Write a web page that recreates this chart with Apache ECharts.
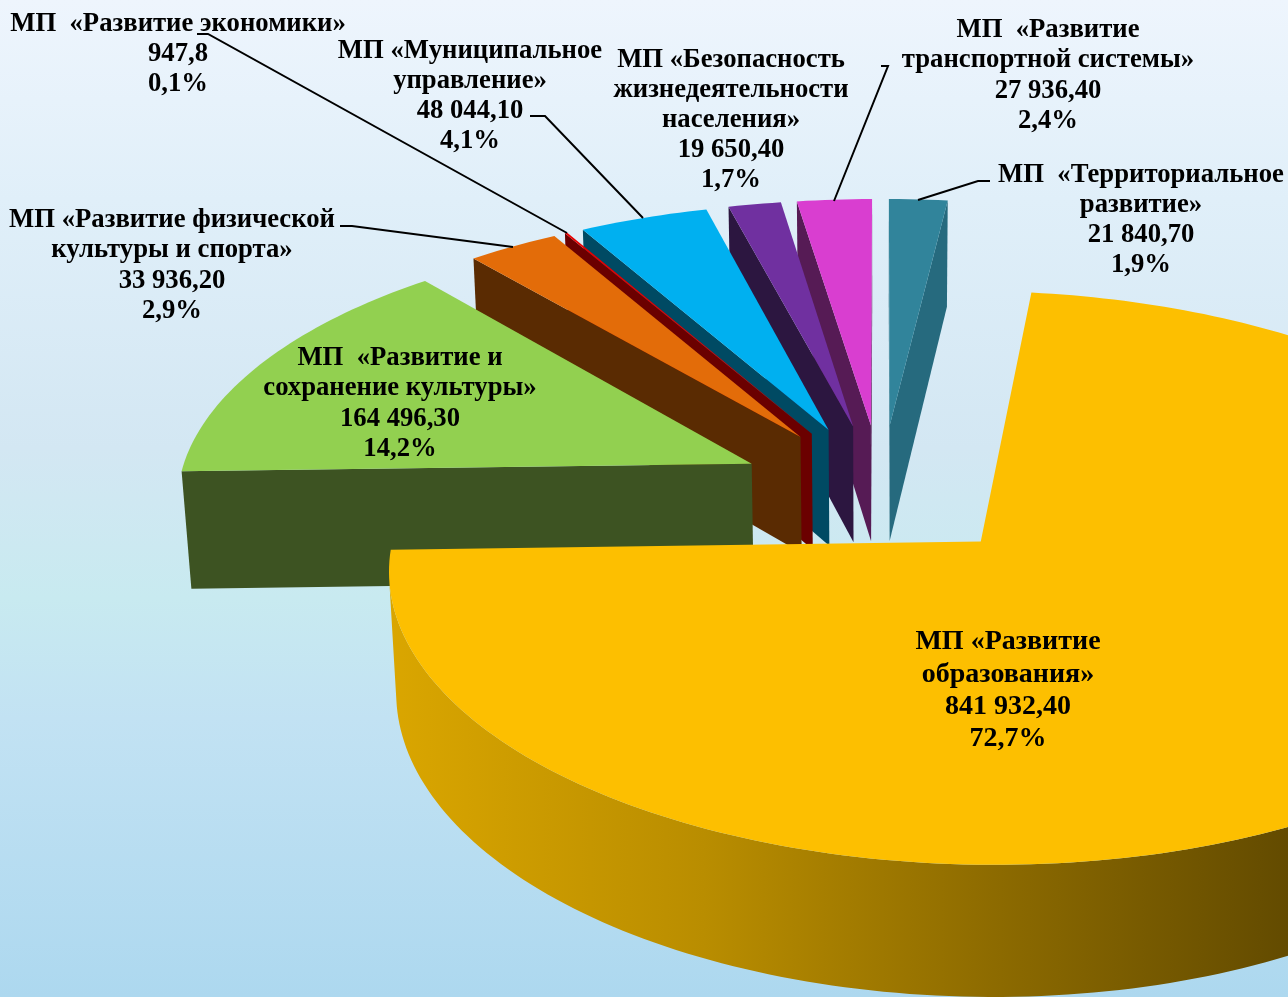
<!DOCTYPE html>
<html><head><meta charset="utf-8">
<style>html,body{margin:0;padding:0;background:#fff}#c{width:1288px;height:997px}</style>
<script src="https://cdn.jsdelivr.net/npm/echarts@6/dist/echarts.min.js"></script>
</head><body><div id="c"></div>
<script>
// --- data, clockwise from 12 o'clock ---
const names = [
  'МП  «Территориальное\nразвитие»',
  'МП «Развитие\nобразования»',
  'МП  «Развитие и\nсохранение культуры»',
  'МП «Развитие физической\nкультуры и спорта»',
  'МП  «Развитие экономики»',
  'МП «Муниципальное\nуправление»',
  'МП «Безопасность\nжизнедеятельности\nнаселения»',
  'МП  «Развитие\nтранспортной системы»'
];
const values = [21840.7, 841932.4, 164496.3, 33936.2, 947.8, 48044.1, 19650.4, 27936.4];
const valueLabels = ['21 840,70', '841 932,40', '164 496,30', '33 936,20', '947,8', '48 044,10', '19 650,40', '27 936,40'];
const percentLabels = ['1,9%', '72,7%', '14,2%', '2,9%', '0,1%', '4,1%', '1,7%', '2,4%'];

// --- styling ---
const topColors = ['#31849B', '#FDBF00', '#92D050', '#E36C09', '#E80000', '#00B0F0', '#7030A0', '#D93ED0'];
const wallColors = ['#266A7E', '#D9A500', '#3D5322', '#5A2B02', '#6B0000', '#004A63', '#2C1640', '#561B55'];
const drawOrder = [0, 7, 6, 5, 4, 3, 2, 1];
const labelPos = [[1141, 220], [1008, 690.5], [400, 403.5], [172, 265.5], [178, 54], [470, 96], [731, 120.2], [1048, 75.5]];
const labelLine = [30, 32.3, 30.3, 30.3, 30, 30, 30.2, 30.3];
const labelSize = [26.7, 28, 26.7, 26.7, 26.7, 26.7, 26.7, 26.7];
const leaders = [
  [[990, 181], [978, 181], [918, 200]],
  [[197, 34], [208, 34], [567, 233]],
  [[530, 116], [545, 116], [643, 218]],
  [[340, 226], [352, 226], [513, 247]],
  [[881, 66], [888, 66], [834, 201]]
];

// --- projection of the tilted pie (perspective) ---
const CX = 881.5, CY = 490.6, S = 575, SK = 269.5, P = 0.124, Q = 0.0143, DEPTH = 120, EXPLODE = 0.25;
function project(X, Y, low) {
  const w = 1 + P * Y + (low ? Q : 0);
  return [CX + S * X / w, CY + (-SK * Y + (low ? DEPTH : 0)) / w];
}
function area(q) {
  let s = 0;
  for (let i = 0; i < q.length; i++) {
    const a = q[i], b = q[(i + 1) % q.length];
    s += a[0] * b[1] - b[0] * a[1];
  }
  return s;
}
const total = values.reduce((a, b) => a + b, 0);
let acc = 0;
const slices = values.map((v, i) => {
  const a0 = acc / total * Math.PI * 2; acc += v;
  return { i, a0, a1: acc / total * Math.PI * 2 };
});

function renderSlice(params, api) {
  const s = slices[api.value(0)];
  const mid = (s.a0 + s.a1) / 2;
  const ax = EXPLODE * Math.sin(mid), ay = EXPLODE * Math.cos(mid);
  const n = Math.max(2, Math.ceil((s.a1 - s.a0) / 0.02));
  const rim = [];
  for (let k = 0; k <= n; k++) {
    const t = s.a0 + (s.a1 - s.a0) * k / n;
    rim.push([ax + Math.sin(t), ay + Math.cos(t)]);
  }
  const wallFill = s.i === 1
    ? new echarts.graphic.LinearGradient(390, 0, 1288, 0, [
        { offset: 0, color: '#DAA600' }, { offset: 0.35, color: '#B98D00' },
        { offset: 0.68, color: '#8C6A00' }, { offset: 1, color: '#634B00' }], true)
    : wallColors[s.i];
  const kids = [];
  const pushQuad = pts => kids.push({ type: 'polygon', shape: { points: pts }, style: { fill: wallFill } });
  const quad = (u, v) => [project(u[0], u[1]), project(v[0], v[1]), project(v[0], v[1], true), project(u[0], u[1], true)];
  const apex = [ax, ay];
  // radial faces
  [[apex, rim[0]], [rim[n], apex]].forEach(e => {
    const q = quad(e[0], e[1]);
    if (area(q) < 0) pushQuad(q);
  });
  // outer curved wall: only the segments that face the viewer
  let run = [];
  const flush = () => {
    if (run.length > 1) {
      const up = run.map(p => project(p[0], p[1]));
      const lo = run.map(p => project(p[0], p[1], true)).reverse();
      pushQuad(up.concat(lo));
    }
    run = [];
  };
  for (let k = 0; k < n; k++) {
    if (area(quad(rim[k], rim[k + 1])) < 0) {
      if (!run.length) run.push(rim[k]);
      run.push(rim[k + 1]);
    } else flush();
  }
  flush();
  // top face
  const top = [project(ax, ay)].concat(rim.map(p => project(p[0], p[1])));
  kids.push({ type: 'polygon', shape: { points: top }, style: { fill: topColors[s.i] } });
  return { type: 'group', children: kids };
}

function renderLabel(params, api) {
  const i = api.value(0);
  return {
    type: 'text',
    x: labelPos[i][0], y: labelPos[i][1],
    style: {
      text: names[i] + '\n' + valueLabels[i] + '\n' + percentLabels[i],
      fill: '#000',
      font: 'bold ' + labelSize[i] + 'px "Liberation Serif"',
      lineHeight: labelLine[i],
      align: 'center', verticalAlign: 'middle'
    }
  };
}
function renderLeader(params, api) {
  return {
    type: 'polyline',
    shape: { points: leaders[api.value(0)] },
    style: { fill: 'none', stroke: '#000', lineWidth: 2 }
  };
}

const chart = echarts.init(document.getElementById('c'), null, { renderer: 'canvas', width: 1288, height: 997 });
chart.setOption({
  animation: false,
  backgroundColor: {
    type: 'linear', x: 0, y: 0, x2: 0, y2: 1,
    colorStops: [
      { offset: 0, color: '#EEF5FD' }, { offset: 0.2, color: '#E0EFF9' },
      { offset: 0.45, color: '#D3E7F3' }, { offset: 0.6, color: '#C8EAF0' },
      { offset: 0.72, color: '#C2E2F3' }, { offset: 1, color: '#ADD8EF' }]
  },
  series: [
    { type: 'custom', coordinateSystem: 'none', renderItem: renderSlice, z: 1, silent: true,
      data: drawOrder.map(i => [i, values[i]]) },
    { type: 'custom', coordinateSystem: 'none', renderItem: renderLeader, z: 2, silent: true,
      data: leaders.map((l, i) => [i]) },
    { type: 'custom', coordinateSystem: 'none', renderItem: renderLabel, z: 3, silent: true,
      data: names.map((n, i) => [i]) }
  ]
});
</script></body></html>
